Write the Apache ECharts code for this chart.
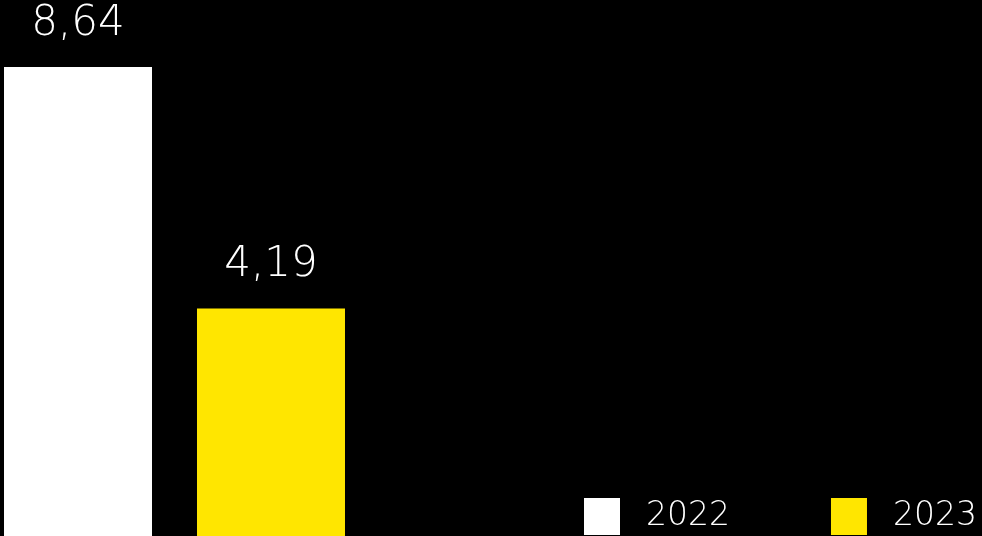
<!DOCTYPE html>
<html><head><meta charset="utf-8">
<script src="https://cdn.jsdelivr.net/npm/echarts@6/dist/echarts.min.js"></script>
<style>html,body{margin:0;padding:0;background:#000;}#c{width:982px;height:536px;}</style>
</head><body><div id="c"></div>
<script>
const categories = [''];
const seriesNames = ['2022', '2023'];
const values2022 = [8.64];
const values2023 = [4.19];
const colors = ['#ffffff', '#ffe600'];

const chart = echarts.init(document.getElementById('c'));
const font = '"DejaVu Sans"';
const lbl = {
  show: true, position: 'top', distance: 22, color: '#ffffff',
  fontFamily: font, fontWeight: 200, fontSize: 42,
  formatter: p => String(p.value).replace('.', ',')
};
chart.setOption({
  backgroundColor: '#000000',
  animation: false,
  grid: { left: 4, width: 341, top: 67, bottom: 0, containLabel: false },
  xAxis: { type: 'category', data: categories, show: false },
  yAxis: { type: 'value', min: 0, max: 8.64, show: false },
  legend: {
    data: seriesNames, left: 584, bottom: 1, padding: 0, itemWidth: 36, itemHeight: 37,
    itemGap: 101, icon: 'rect',
    textStyle: { color: '#ffffff', fontFamily: font, fontWeight: 200, fontSize: 33, padding: [0, 0, 0, 21] }
  },
  series: [
    { name: seriesNames[0], type: 'bar', data: values2022, barWidth: 148, barGap: '30.4%', itemStyle: { color: colors[0] }, label: lbl },
    { name: seriesNames[1], type: 'bar', data: values2023, barWidth: 148, itemStyle: { color: colors[1] }, label: lbl }
  ]
});
</script></body></html>
